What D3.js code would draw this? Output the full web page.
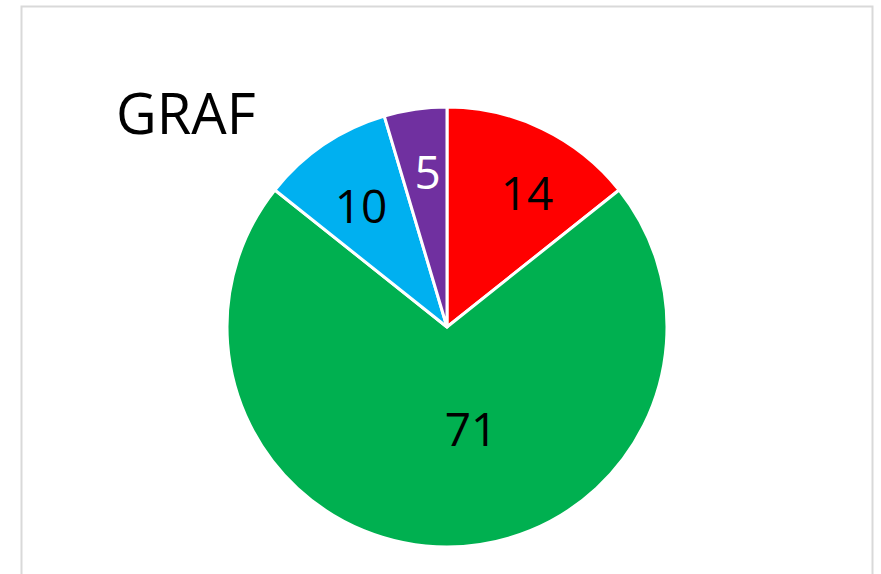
<!DOCTYPE html>
<meta charset="utf-8">
<script src="https://cdn.jsdelivr.net/npm/d3@7"></script>
<style>
    body { margin: 0; background: #fff; }
    text { font-family: "Open Sans", sans-serif; }
</style>
<svg></svg>
<script>
    // data (labels are shown rounded, like the excel original)
    var categories = ['A', 'B', 'C', 'D'];
    var values = [14.3, 71.4, 9.7, 4.6];
    var colors = ['#ff0000', '#00b050', '#00b0f0', '#7030a0'];
    var labelColors = ['#000', '#000', '#000', '#fff'];
    var title = 'GRAF';

    var width = 881, height = 574;
    var cx = 447, cy = 327, radius = 220;

    var svg = d3.select('svg').attr('width', width).attr('height', height);

    // chart frame (runs off the bottom like the screenshot)
    svg.append('rect')
        .attr('x', 21.5).attr('y', 6.5)
        .attr('width', 851).attr('height', 600)
        .attr('fill', '#fff')
        .attr('stroke', '#d9d9d9')
        .attr('stroke-width', 2);

    svg.append('text')
        .attr('x', 116).attr('y', 134)
        .attr('font-size', 56)
        .attr('fill', '#000')
        .text(title);

    var pie = d3.pie().sort(null).value(d => d);
    var arcs = pie(values);
    var arc = d3.arc().innerRadius(0).outerRadius(radius);
    var fmt = d3.format('.0f');

    var g = svg.append('g').attr('transform', 'translate(' + cx + ',' + cy + ')');

    g.selectAll('path').data(arcs).enter().append('path')
        .attr('d', arc)
        .attr('fill', (d, i) => colors[i])
        .attr('stroke', '#fff')
        .attr('stroke-width', 3)
        .attr('stroke-linejoin', 'round');

    // label placement, tuned to look like excel's "best fit"
    var labelTweak = {
        A: { r: 157, da: 4.9 },
        B: { r: 104, da: -13.4 },
        C: { r: 149, da: -1.2 },
        D: { r: 157, da: 1.2 }
    };
    function labelPos(d, i) {
        var t = labelTweak[categories[i]];
        var a = (d.startAngle + d.endAngle) / 2 + t.da * Math.PI / 180;
        return [t.r * Math.sin(a), -t.r * Math.cos(a)];
    }

    g.selectAll('text.lbl').data(arcs).enter().append('text')
        .attr('class', 'lbl')
        .attr('x', (d, i) => labelPos(d, i)[0])
        .attr('y', (d, i) => labelPos(d, i)[1])
        .attr('text-anchor', 'middle')
        .attr('dominant-baseline', 'central')
        .attr('font-size', 46)
        .attr('fill', (d, i) => labelColors[i])
        .text(d => fmt(d.data));
</script>
